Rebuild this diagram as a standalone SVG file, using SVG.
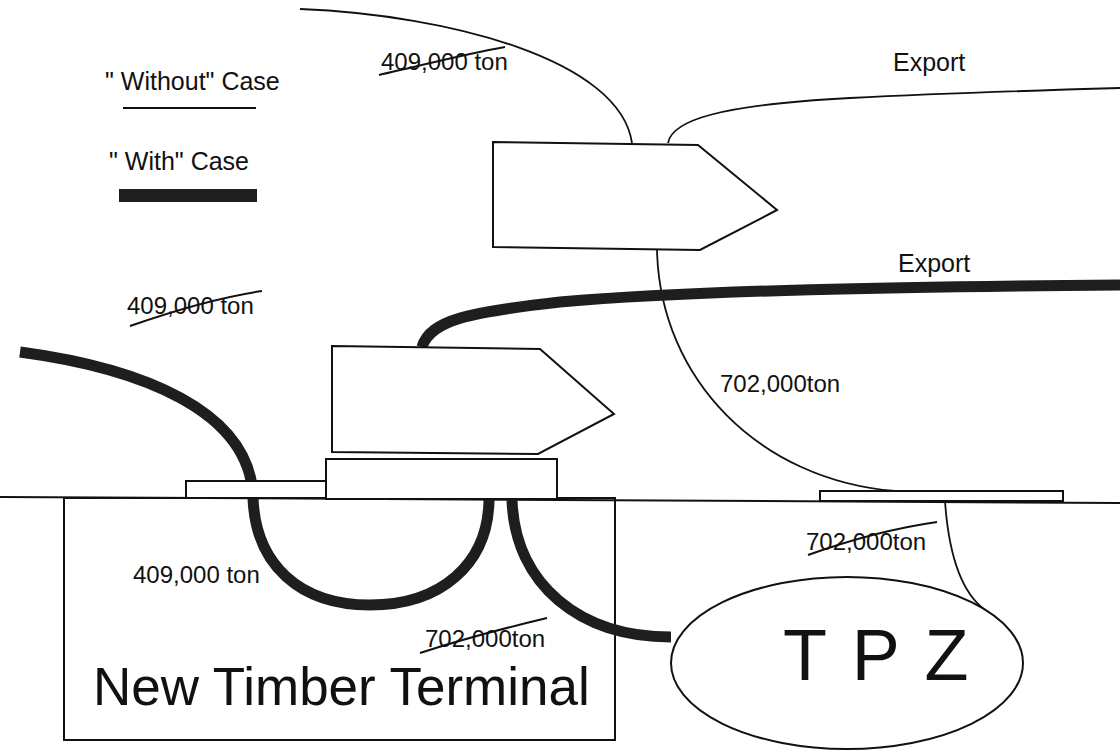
<svg xmlns="http://www.w3.org/2000/svg" width="1120" height="752" viewBox="0 0 1120 752">
<style>
.t{font-family:"Liberation Sans",Arial,sans-serif;fill:#111}
.box{fill:#fff;stroke:#111;stroke-width:2}
.frame{fill:none;stroke:#111;stroke-width:2}
.thin{fill:none;stroke:#111;stroke-width:1.8}
.thick{fill:none;stroke:#1e1e1e;stroke-width:11}
.strike{fill:none;stroke:#111;stroke-width:2}
</style>
<rect width="1120" height="752" fill="#fff"/>
<g id="legend">
<text class="t" x="105" y="90" font-size="25">" Without" Case</text>
<line x1="123" y1="108" x2="256" y2="108" stroke="#111" stroke-width="2"/>
<text class="t" x="109" y="170" font-size="25">" With" Case</text>
<rect x="119" y="189" width="138" height="13" fill="#1e1e1e"/>
</g>
<g id="ground">
<line x1="0" y1="497" x2="1120" y2="503" stroke="#111" stroke-width="2"/>
</g>
<g id="terminal">
<rect class="frame" x="64" y="498" width="551" height="242"/>
<text class="t" x="93" y="705" font-size="53">New Timber Terminal</text>
</g>
<g id="connectors">
<path class="thin" d="M300,9 C450,15 620,60 632,143"/>
<path class="thin" d="M668,143 C672,120 720,105 850,98 C950,93 1050,90 1120,88"/>
<path class="thin" d="M657,250 C660,380 760,480 895,491"/>
<path class="thin" d="M945,501 C948,545 958,590 985,610"/>
<path class="thick" d="M20,352 C140,368 250,410 253,497 C255,565 300,605 370,605 C440,605 488,565 489,500"/>
<path class="thick" d="M512,500 C515,585 580,637 671,637"/>
<path class="thick" d="M422,347 C430,320 470,312 560,302 C700,290 900,287 1120,285"/>
</g>
<g id="platform-left"><rect class="box" x="186" y="481" width="140" height="17"/></g>
<g id="platform-mid"><rect class="box" x="326" y="459" width="231" height="40"/></g>
<g id="platform-right"><rect class="box" x="820" y="491" width="243" height="10"/></g>
<g id="vessel-upper"><polygon class="box" points="493,142 698,145 777,210 700,250 493,247"/></g>
<g id="vessel-lower"><polygon class="box" points="332,346 540,349 614,414 538,454 332,452"/></g>
<g id="tpz">
<ellipse class="box" cx="847" cy="663" rx="176" ry="86"/>
<text class="t" x="783" y="680" font-size="72" letter-spacing="3">T P Z</text>
</g>
<g id="labels">
<text class="t" x="381" y="70" font-size="24">409,000 ton</text>
<path class="strike" d="M379,75 C420,66 460,55 505,47"/>
<text class="t" x="893" y="71" font-size="25">Export</text>
<text class="t" x="898" y="272" font-size="25">Export</text>
<text class="t" x="127" y="314" font-size="24">409,000 ton</text>
<path class="strike" d="M130,326 C170,312 215,298 262,291"/>
<text class="t" x="720" y="392" font-size="24">702,000ton</text>
<text class="t" x="806" y="550" font-size="24">702,000ton</text>
<path class="strike" d="M808,555 C850,540 895,528 937,522"/>
<text class="t" x="133" y="583" font-size="24">409,000 ton</text>
<text class="t" x="425" y="647" font-size="24">702,000ton</text>
<path class="strike" d="M420,653 C460,640 505,628 547,618"/>
</g>
</svg>
